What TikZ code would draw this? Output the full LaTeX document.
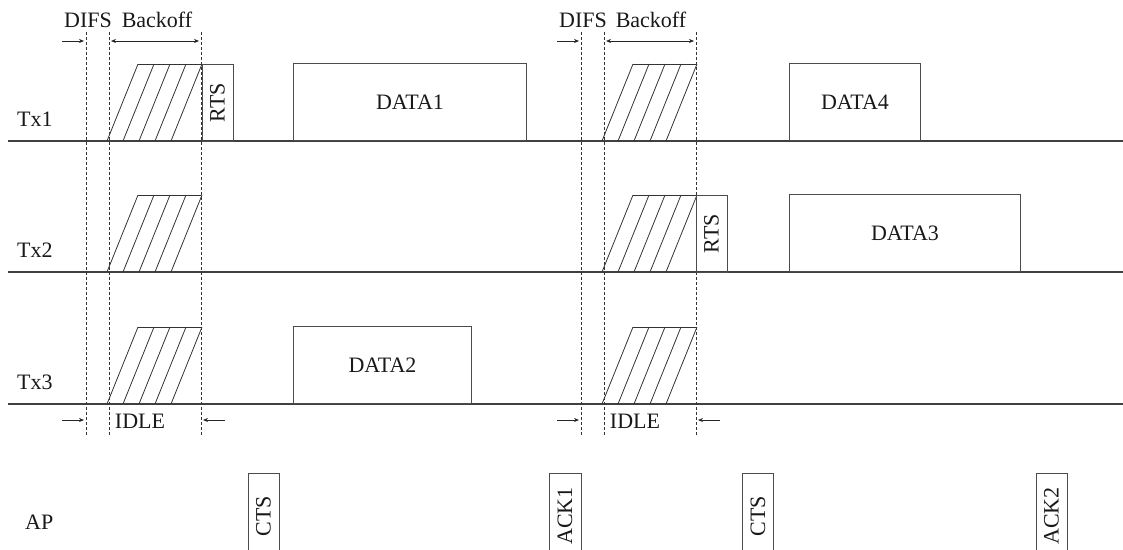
\documentclass[tikz,border=0pt]{standalone}
\usepackage{fontspec}
\setmainfont{Liberation Serif}
\usetikzlibrary{arrows.meta}
\begin{document}
\begin{tikzpicture}[x=1pt,y=-1pt,
  lbl/.style={font=\fontsize{22}{25}\selectfont, text=black!90, inner sep=0pt},
  axis/.style={draw=black!75, line width=1.2pt},
  boxd/.style={draw=black!70, line width=0.9pt, inner sep=0pt, font=\fontsize{22}{25}\selectfont, text=black!90},
  vbox/.style={boxd, rotate=90},
  dline/.style={draw=black!80, line width=0.7pt, dash pattern=on 3pt off 2pt},
  hatch/.style={draw=black!80, line width=0.8pt},
  arr/.style={draw=black!85, line width=0.7pt, -{Stealth[length=5pt,width=4pt]}},
  darr/.style={draw=black!85, line width=0.7pt, {Stealth[length=5pt,width=4pt]}-{Stealth[length=5pt,width=4pt]}}
]
\useasboundingbox (0,0) rectangle (1123,549);

% row labels
\node[lbl, anchor=base west] (tx1) at (17,126) {Tx1};
\node[lbl, anchor=base west] (tx2) at (17,257) {Tx2};
\node[lbl, anchor=base west] (tx3) at (17,389) {Tx3};
\node[lbl, anchor=base west] (ap) at (25,529) {AP};

% time axes
\foreach \r/\y in {1/141, 2/272, 3/404} {
  \coordinate (a\r s) at (8,\y);
  \coordinate (a\r e) at (1123,\y);
  \draw[axis] (a\r s) -- (a\r e);
}

% dashed guides
\foreach \i/\x in {1/86, 2/109, 3/201, 4/581, 5/604, 6/696} {
  \coordinate (g\i t) at (\x,32);
  \coordinate (g\i b) at (\x,436);
  \draw[dline] (g\i t) -- (g\i b);
}

% backoff hatched blocks
\foreach \off in {0,495} {
  \foreach \y in {141,272,404} {
    \draw[hatch] (138+\off,\y-77) -- (201+\off,\y-77);
    \foreach \k in {0,...,4} {
      \draw[hatch] (107+\off+16*\k,\y) -- (138+\off+16*\k,\y-77);
    }
  }
}

% DIFS / Backoff labels and arrows
\node[lbl, anchor=base] (difs1) at (88,27) {DIFS};
\node[lbl, anchor=base] (bo1) at (157,27) {Backoff};
\node[lbl, anchor=base] (difs2) at (583,27) {DIFS};
\node[lbl, anchor=base] (bo2) at (651,27) {Backoff};
\coordinate (d1a) at (62,41); \coordinate (d1b) at (84,41);
\coordinate (k1a) at (111,41); \coordinate (k1b) at (199,41);
\coordinate (d2a) at (557,41); \coordinate (d2b) at (579,41);
\coordinate (k2a) at (606,41); \coordinate (k2b) at (694,41);
\draw[arr] (d1a) -- (d1b);
\draw[darr] (k1a) -- (k1b);
\draw[arr] (d2a) -- (d2b);
\draw[darr] (k2a) -- (k2b);

% IDLE labels and arrows
\node[lbl, anchor=base] (idle1) at (140,428) {IDLE};
\node[lbl, anchor=base] (idle2) at (635,428) {IDLE};
\coordinate (i1a) at (62,420); \coordinate (i1b) at (84,420);
\coordinate (i1c) at (225,420); \coordinate (i1d) at (203,420);
\coordinate (i2a) at (557,420); \coordinate (i2b) at (579,420);
\coordinate (i2c) at (720,420); \coordinate (i2d) at (698,420);
\draw[arr] (i1a) -- (i1b);
\draw[arr] (i1c) -- (i1d);
\draw[arr] (i2a) -- (i2b);
\draw[arr] (i2c) -- (i2d);

% data frames
\node[boxd, minimum width=233pt, minimum height=77pt, anchor=south west] (data1) at (293,141) {DATA1};
\node[boxd, minimum width=131pt, minimum height=77pt, anchor=south west] (data4) at (789,141) {DATA4};
\node[boxd, minimum width=231pt, minimum height=77pt, anchor=south west] (data3) at (789,272) {DATA3};
\node[boxd, minimum width=178pt, minimum height=77pt, anchor=south west] (data2) at (293,404) {DATA2};

% RTS frames
\node[vbox, minimum width=77pt, minimum height=31pt] (rts1) at (217.5,102.5) {RTS};
\node[vbox, minimum width=77pt, minimum height=31pt] (rts2) at (711.5,233.5) {RTS};

% AP frames
\node[vbox, minimum width=86pt, minimum height=31pt] (cts1) at (263.5,516) {CTS};
\node[vbox, minimum width=86pt, minimum height=32pt] (ack1) at (565,516) {ACK1};
\node[vbox, minimum width=86pt, minimum height=31pt] (cts2) at (758,516) {CTS};
\node[vbox, minimum width=86pt, minimum height=31pt] (ack2) at (1051.5,516) {ACK2};
\end{tikzpicture}
\end{document}
